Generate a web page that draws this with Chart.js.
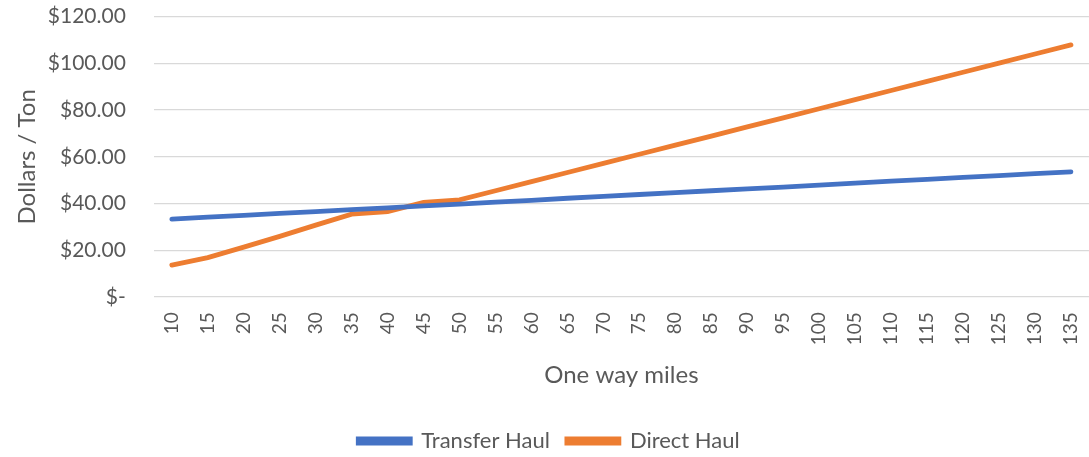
<!DOCTYPE html>
<html>
<head>
<meta charset="utf-8">
<script src="https://cdn.jsdelivr.net/npm/chart.js@4"></script>
<style>
  html, body { margin: 0; padding: 0; background: #fff; overflow: hidden; }
  #wrap { width: 1089px; height: 457px; }
</style>
</head>
<body>
<div id="wrap"><canvas id="canvas"></canvas></div>
<script>
const miles = [10, 15, 20, 25, 30, 35, 40, 45, 50, 55, 60, 65, 70, 75, 80, 85, 90, 95, 100, 105, 110, 115, 120, 125, 130, 135];

const transferHaul = [33.4, 34.2, 35.0, 35.8, 36.6, 37.4, 38.2, 39.0, 39.8, 40.6, 41.4, 42.3, 43.1, 43.9, 44.7, 45.5, 46.3, 47.1, 47.9, 48.8, 49.6, 50.4, 51.2, 52.0, 52.8, 53.6];
const directHaul = [13.7, 16.9, 21.4, 26.0, 30.8, 35.5, 36.6, 40.5, 41.6, 45.5, 49.4, 53.3, 57.2, 61.1, 65.0, 68.9, 72.8, 76.7, 80.6, 84.5, 88.4, 92.3, 96.2, 100.1, 104.0, 107.9];

const textColor = '#595959';
const fontFamily = 'Lato, "Open Sans", sans-serif';

function money(value) {
  if (value === 0) return '$-';
  return '$' + value.toFixed(2);
}

document.addEventListener('DOMContentLoaded', () => {
  const context = document.getElementById('canvas').getContext('2d');

  const config = {
    type: 'line',
    data: {
      labels: miles,
      datasets: [
        {
          label: 'Transfer Haul',
          data: transferHaul,
          borderColor: '#4472c4',
          backgroundColor: '#4472c4',
          borderWidth: 4.8,
          borderCapStyle: 'round',
          pointRadius: 0,
          tension: 0,
        },
        {
          label: 'Direct Haul',
          data: directHaul,
          borderColor: '#ed7d31',
          backgroundColor: '#ed7d31',
          borderWidth: 4.8,
          borderCapStyle: 'round',
          pointRadius: 0,
          tension: 0,
        },
      ],
    },
    options: {
      responsive: true,
      maintainAspectRatio: false,
      animation: false,
      layout: {
        padding: {top: 2, right: 0, left: 9, bottom: -5},
      },
      plugins: {
        tooltip: {enabled: false},
        legend: {
          position: 'bottom',
          labels: {
            color: textColor,
            font: {family: fontFamily, size: 22},
            boxWidth: 52,
            boxHeight: 4,
            padding: 17,
          },
        },
      },
      scales: {
        x: {
          offset: true,
          grid: {display: false, drawTicks: true, tickLength: 15, tickColor: 'rgba(0,0,0,0)'},
          border: {display: false},
          ticks: {
            color: textColor,
            font: {family: fontFamily, size: 19, lineHeight: 0.95},
            minRotation: 90,
            maxRotation: 90,
            autoSkip: false,
            padding: 0,
          },
          title: {
            display: true,
            text: 'One way miles',
            color: textColor,
            font: {family: fontFamily, size: 24},
            padding: {top: 16, bottom: 23},
          },
        },
        y: {
          min: 0,
          max: 120,
          grid: {color: '#d9d9d9', lineWidth: 1.3, drawTicks: true, tickLength: 24, tickColor: 'rgba(0,0,0,0)'},
          border: {display: false},
          ticks: {
            stepSize: 20,
            color: textColor,
            font: {family: fontFamily, size: 21},
            padding: 4,
            callback: money,
          },
          title: {
            display: true,
            text: 'Dollars / Ton',
            color: textColor,
            font: {family: fontFamily, size: 24},
            padding: {bottom: 2},
          },
        },
      },
    },
  };

  new Chart(context, config);
});
</script>
</body>
</html>
